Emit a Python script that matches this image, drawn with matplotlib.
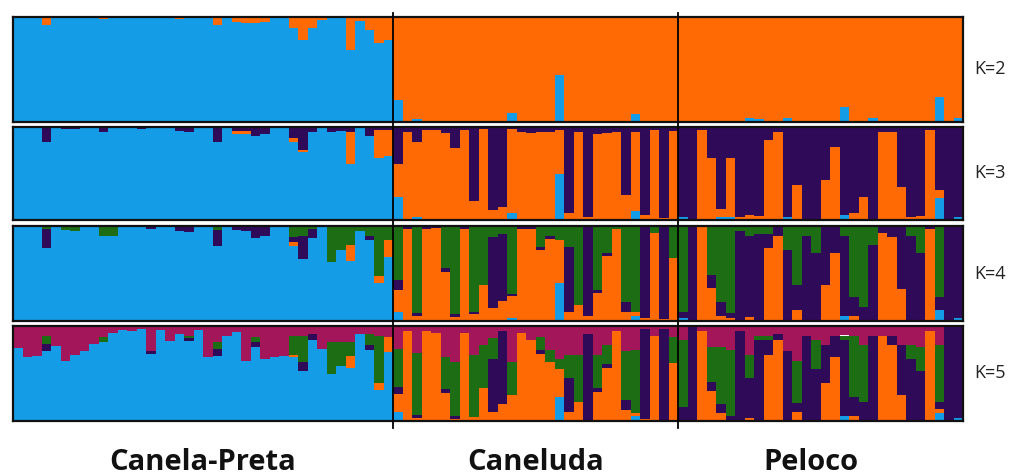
import matplotlib.pyplot as plt
import numpy as np
from matplotlib.lines import Line2D
from matplotlib.transforms import blended_transform_factory

# Populations in plotting order and number of individuals in each
populations = ["Canela-Preta", "Caneluda", "Peloco"]
pop_sizes = [40, 30, 30]
k_labels = ["K=2", "K=3", "K=4", "K=5"]

# Cluster colours, stacked bottom to top
cluster_colors = ["#149ce6", "#ff6a04", "#2f0a58", "#1d6d15", "#a3165a"]

# Membership coefficients. In Canela-Preta the blue cluster takes the
# remainder of each bar, in Caneluda/Peloco the orange cluster does.

# K=2
k2_orange_cp = [0, 0, 0, .08, 0, 0, 0, 0, 0, .02,
                0, 0, 0, 0, 0, 0, 0, .02, 0, 0,
                0, .08, 0, .05, .06, .06, .05, 0, 0, .10,
                .22, .10, .03, 0, 0, .31, .04, .12, .25, .22]
k2_blue_cl_pe = [.21, 0, .03, 0, 0, 0, 0, 0, 0, 0,
                 0, 0, .09, 0, 0, 0, 0, .45, 0, 0,
                 0, 0, 0, 0, 0, .08, 0, 0, 0, 0,
                 0, 0, 0, 0, 0, 0, 0, .04, .03, 0,
                 0, .04, 0, 0, 0, 0, 0, .14, 0, 0,
                 .04, 0, 0, 0, 0, 0, 0, .24, 0, .04]

# K=3
k3_orange_cp = [0, 0, 0, 0, 0, 0, 0, 0, 0, 0,
                0, 0, 0, 0, 0, 0, 0, 0, 0, 0,
                0, 0, 0, .03, .03, 0, 0, 0, 0, .04,
                .02, 0, 0, 0, 0, .35, 0, 0, .30, .28]
k3_blue_cl_pe = [.25, 0, .03, 0, 0, 0, 0, 0, 0, 0,
                 0, 0, .07, 0, 0, 0, 0, .50, 0, 0,
                 0, 0, 0, 0, 0, .10, 0, 0, 0, 0,
                 .03, 0, 0, 0, .03, .03, 0, 0, 0, 0,
                 0, .03, 0, 0, 0, 0, 0, .05, 0, 0,
                 0, 0, 0, 0, 0, 0, 0, .24, 0, .03]
k3_purple = [0, 0, 0, .16, 0, .02, .02, 0, 0, .05,
             0, 0, 0, .02, 0, 0, 0, .04, .05, 0,
             0, .16, 0, .04, .04, .10, .08, 0, 0, .12,
             .25, .05, 0, .05, .04, .05, 0, .10, .03, .03,
             .40, .05, .16, .03, .03, .06, .23, .03, .80, .02,
             .89, .86, .02, .05, .06, .05, .05, .03, .92, .05,
             .97, .08, .06, .05, .73, .05, .95, .03, .98, .04,
             .97, 1.0, .03, .33, .88, .33, .97, .95, .96, .14,
             .05, .97, .62, 1.0, 1.0, .57, .22, .95, .92, .75,
             1.0, .05, .05, .64, .97, .96, .03, .68, 1.0, .97]

# K=4
k4_orange_cp = [0, 0, 0, 0, 0, 0, 0, 0, 0, 0,
                0, 0, 0, 0, 0, 0, 0, 0, 0, 0,
                0, 0, 0, 0, 0, 0, 0, 0, 0, .04,
                0, 0, 0, 0, 0, .17, 0, 0, .07, .18]
k4_blue_cl_pe = [.10, 0, 0, 0, 0, 0, 0, 0, 0, 0,
                 0, 0, .03, 0, 0, 0, 0, .40, 0, 0,
                 0, 0, 0, 0, 0, .05, 0, 0, 0, 0,
                 .03, 0, 0, 0, 0, 0, 0, 0, 0, 0,
                 0, 0, 0, 0, 0, 0, 0, .05, 0, 0,
                 0, 0, 0, 0, 0, 0, 0, .12, 0, .03]
k4_purple = [0, 0, 0, .20, 0, 0, 0, 0, 0, 0,
             0, 0, 0, 0, .03, 0, 0, .05, .06, 0,
             0, .17, 0, .04, .05, .13, .10, 0, 0, .05,
             .25, .10, 0, 0, 0, 0, 0, .05, 0, 0,
             .10, .03, .03, .03, .02, .04, .03, .03, .03, 0,
             .74, .71, .02, .03, .03, .03, .04, 0, .68, 0,
             .95, .03, .04, 0, .10, 0, .97, 0, .98, 0,
             .07, 1.0, 0, .13, .15, .05, .95, .86, .92, .15,
             .10, .75, .26, .90, .72, .62, .28, .85, .20, .15,
             .80, .07, .12, .66, .90, .72, .03, .13, 1.0, .97]
k4_green = [0, 0, 0, .03, 0, .04, .05, 0, 0, .10,
            .10, 0, 0, 0, 0, 0, 0, 0, 0, 0,
            0, .04, 0, 0, 0, 0, 0, 0, 0, .12,
            .10, .03, 0, .38, .25, .20, .05, .10, .53, .15,
            .57, 0, .92, 0, 0, .44, .93, 0, .90, .62,
            .12, .08, .72, 0, 0, .22, .10, .15, .22, .83,
            0, .67, .28, .03, .80, .90, 0, .07, 0, .34,
            .90, 0, 0, .52, .80, .92, .05, .10, .08, .08,
            0, .25, .62, .10, .28, 0, 0, .10, .75, .85,
            .20, 0, 0, 0, .10, .28, 0, .75, 0, 0]

# K=5
k5_orange_cp = [0, 0, 0, 0, 0, 0, 0, 0, 0, 0,
                0, 0, 0, 0, 0, 0, 0, 0, 0, 0,
                0, 0, 0, 0, 0, 0, 0, 0, 0, .03,
                0, 0, 0, 0, 0, .12, 0, 0, .07, .15]
k5_blue_cl_pe = [.10, 0, 0, 0, 0, 0, 0, 0, 0, 0,
                 0, 0, 0, 0, 0, 0, 0, .25, 0, 0,
                 0, 0, 0, 0, 0, .05, 0, 0, 0, 0,
                 0, 0, 0, 0, 0, 0, 0, 0, 0, 0,
                 0, 0, 0, 0, 0, 0, 0, .05, 0, 0,
                 0, 0, 0, 0, 0, 0, 0, .08, 0, .03]
k5_purple = [0, 0, 0, .07, 0, 0, 0, 0, 0, 0,
             0, 0, 0, 0, .03, 0, 0, 0, .03, 0,
             0, .08, 0, 0, 0, .05, 0, 0, 0, 0,
             .09, .07, 0, 0, 0, 0, 0, .05, 0, 0,
             .08, 0, .03, 0, 0, .04, .03, 0, 0, 0,
             .55, .77, 0, 0, 0, .04, 0, 0, .35, 0,
             .92, .04, .04, 0, .10, 0, .95, 0, .97, 0,
             .15, 1.0, 0, .09, .10, .05, .95, .42, .85, .15,
             .07, .74, .10, .90, .55, .40, .23, .80, .20, .20,
             .90, 0, .10, .53, .65, .53, 0, .07, 1.0, .97]
k5_green = [0, 0, 0, .09, 0, 0, 0, 0, 0, .05,
            0, 0, 0, 0, 0, 0, 0, 0, .03, 0,
            0, .07, 0, 0, 0, .05, 0, 0, 0, .20,
            .28, 0, 0, .33, .25, .15, 0, .12, .50, 0,
            .40, 0, .66, 0, 0, .33, .57, 0, .66, .45,
            .22, 0, .35, 0, 0, .13, .13, .10, .25, .50,
            0, .35, .20, 0, .52, .67, 0, 0, 0, .27,
            .70, 0, 0, .37, .60, .70, 0, .25, .05, .05,
            0, 0, .44, 0, .30, 0, 0, .05, .65, .60,
            0, 0, 0, 0, .15, .25, 0, .60, 0, 0]
k5_magenta = [.23, .33, .32, .10, .21, .37, .30, .26, .19, .12,
              .07, .04, .05, .03, .26, .04, .16, .08, .10, .04,
              .33, .17, .10, .06, .37, .12, .35, .33, .32, .10,
              .10, .08, .24, .17, .17, .17, .08, .08, .10, .12,
              .24, .05, .28, .05, .07, .33, .38, .07, .30, .20,
              .13, .05, .38, .07, .15, .12, .25, .35, .30, .30,
              .08, .30, .20, .05, .26, .25, .03, .10, .03, .12,
              .15, 0, .05, .22, .22, .25, .05, .30, .10, .10,
              .08, .26, .37, .10, .15, .20, .10, .10, .10, .20,
              .10, .10, .10, .20, .20, .22, .05, .20, 0, 0]

n_ind = sum(pop_sizes)
n_cp = pop_sizes[0]


def build_q(orange_cp, blue_cl_pe, extra=()):
    blue = np.zeros(n_ind)
    orange = np.zeros(n_ind)
    orange[:n_cp] = orange_cp
    blue[n_cp:] = blue_cl_pe
    q = np.vstack([blue, orange] + [np.asarray(e, dtype=float) for e in extra])
    rest = np.clip(1.0 - q.sum(axis=0), 0, None)
    q[0, :n_cp] += rest[:n_cp]
    q[1, n_cp:] += rest[n_cp:]
    return q


panels = [
    build_q(k2_orange_cp, k2_blue_cl_pe),
    build_q(k3_orange_cp, k3_blue_cl_pe, [k3_purple]),
    build_q(k4_orange_cp, k4_blue_cl_pe, [k4_purple, k4_green]),
    build_q(k5_orange_cp, k5_blue_cl_pe, [k5_purple, k5_green, k5_magenta]),
]

W, H = 1021, 476
fig = plt.figure(figsize=(W / 100, H / 100), dpi=100)
fig.patch.set_facecolor("white")

# panel extents in pixels (top, bottom)
rows_px = [(17, 122), (127, 220), (226, 321), (326, 421)]
left_px, right_px = 13, 963

axes = []
x = np.arange(n_ind)
for (top, bot), q, label in zip(rows_px, panels, k_labels):
    ax = fig.add_axes([left_px / W, 1 - bot / H,
                       (right_px - left_px) / W, (bot - top) / H])
    bottom = np.zeros(n_ind)
    for row, color in zip(q, cluster_colors):
        ax.bar(x, row, width=1.0, bottom=bottom, align="edge",
               color=color, linewidth=0, antialiased=False)
        bottom += row
    ax.set_xlim(0, n_ind)
    ax.set_ylim(0, 1)
    ax.set_xticks([])
    ax.set_yticks([])
    for sp in ax.spines.values():
        sp.set_linewidth(1.6)
        sp.set_color("#111111")
    ax.text(1.012, 0.5, label, transform=ax.transAxes, ha="left",
            va="center", fontsize=13, family="Open Sans", color="#222222")
    axes.append(ax)

# vertical lines between populations, running through all panels
trans = blended_transform_factory(axes[0].transData, fig.transFigure)
for b in np.cumsum(pop_sizes)[:-1]:
    fig.add_artist(Line2D([b, b], [1 - 428 / H, 1 - 13 / H],
                          transform=trans, color="black", linewidth=1.3))

# population names under the bottom panel
starts = np.concatenate([[0], np.cumsum(pop_sizes)[:-1]])
name_shift = [0, 0, -1]
for start, size, shift, name in zip(starts, pop_sizes, name_shift, populations):
    axes[-1].text(start + size / 2 + shift, -0.44, name, ha="center",
                  va="center", fontsize=21, fontweight="bold",
                  family="Open Sans", color="#111111")

fig.savefig("out.png", dpi=100)
